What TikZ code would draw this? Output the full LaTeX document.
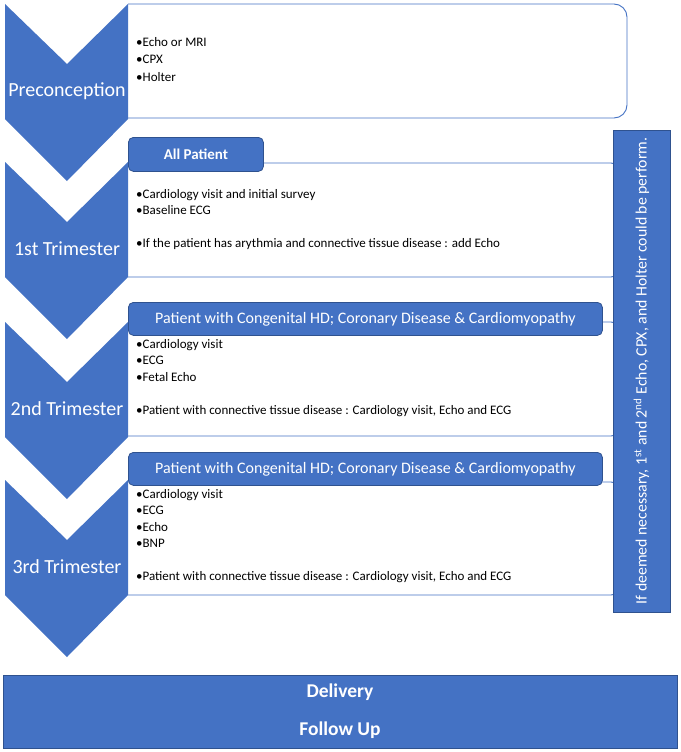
\documentclass[tikz,border=0pt]{standalone}
\usepackage{fontspec}
\setmainfont{Carlito}
\usepackage{xcolor}
\usetikzlibrary{positioning}
\definecolor{mainblue}{HTML}{4472C4}
\definecolor{edgeblue}{HTML}{2F528F}
\tikzset{
  chevron/.style={fill=mainblue, draw=none},
  stage/.style={text=white, inner sep=0pt, font=\fontsize{20}{24}\selectfont},
  panel/.style={draw=mainblue, fill=white, line width=0.9pt, rounded corners=13pt},
  tab/.style={rectangle, draw=edgeblue, fill=mainblue, text=white, rounded corners=5pt,
              line width=0.8pt, inner sep=0pt, anchor=north west,
              font=\fontsize{16}{18}\selectfont},
  items/.style={anchor=north west, align=left, inner sep=0pt,
                font=\fontsize{13}{16.5}\selectfont},
  sidebar/.style={rectangle, draw=edgeblue, fill=mainblue, text=white, line width=0.8pt,
                  rotate=90, minimum width=482pt, minimum height=57pt,
                  font=\fontsize{15.8}{18}\selectfont},
  banner/.style={rectangle, draw=edgeblue, fill=mainblue, text=white, line width=0.8pt,
                 align=center, minimum width=674pt, minimum height=73pt,
                 font=\fontsize{19.5}{38}\selectfont\bfseries},
}

\begin{document}
\begin{tikzpicture}[x=1pt, y=-1pt]
  \useasboundingbox (0,0) rectangle (680,752);

  % white panels behind the chevrons
  \draw[panel] (128,4) -- (627,4) -- (627,118) -- (128,118);
  \draw[panel] (128,163) -- (624,163) -- (624,277) -- (128,277);
  \draw[panel] (128,322) -- (624,322) -- (624,436) -- (128,436);
  \draw[panel] (128,482) -- (624,482) -- (624,595) -- (128,595);

  % chevrons and stage names
  \foreach \t in {4,162,322,480}
    \fill[chevron] (5,\t) -- (67,\t+60) -- (128,\t) -- (128,\t+115)
                   -- (67,\t+177) -- (5,\t+115) -- cycle;
  \foreach \t/\name/\lab in {4/pre/Preconception, 162/first/1st Trimester,
                             322/second/2nd Trimester, 480/third/3rd Trimester}
    \node[stage] (\name) at (67,\t+87) {\lab};

  % tabs
  \node[tab, minimum width=135pt, minimum height=34pt, font=\fontsize{15}{17}\selectfont\bfseries]
    (taball) at (128,137) {All Patient};
  \node[tab, minimum width=474pt, minimum height=33pt] (tabsec) at (128,302)
    {Patient with Congenital HD; Coronary Disease \& Cardiomyopathy};
  \node[tab, minimum width=474pt, minimum height=33pt] (tabthr) at (128,452)
    {Patient with Congenital HD; Coronary Disease \& Cardiomyopathy};

  % panel contents
  \node[items, font=\fontsize{13}{17.5}\selectfont] (preitems) at (136,37)
    {•Echo or MRI\\•CPX\\•Holter};
  \node[items] (firstitems) at (136,189)
    {•Cardiology visit and initial survey\\•Baseline ECG\\[16.5pt]
     •If the patient has arythmia and connective tissue disease : add Echo};
  \node[items] (seconditems) at (136,339)
    {•Cardiology visit\\•ECG\\•Fetal Echo\\[16.5pt]
     •Patient with connective tissue disease : Cardiology visit, Echo and ECG};
  \node[items] (thirditems) at (136,489)
    {•Cardiology visit\\•ECG\\•Echo\\•BNP\\[16.5pt]
     •Patient with connective tissue disease : Cardiology visit, Echo and ECG};

  % side note and closing banner
  \node[sidebar] (note) at (641.5,371)
    {If deemed necessary, 1\textsuperscript{st} and 2\textsuperscript{nd} Echo, CPX, and Holter could be perform.};
  \node[banner] (closing) at (340,711.5) {Delivery\\Follow Up};
\end{tikzpicture}
\end{document}
